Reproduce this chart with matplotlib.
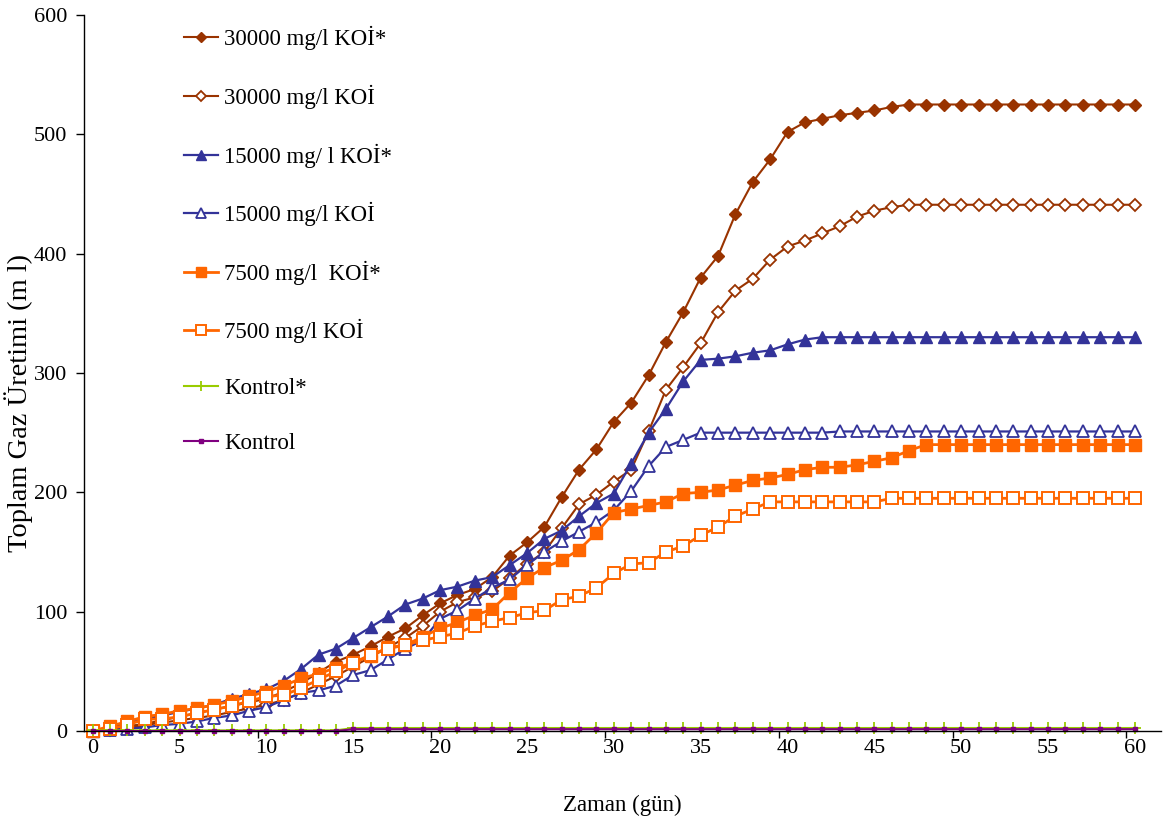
import matplotlib
matplotlib.use("Agg")
import matplotlib.pyplot as plt
from matplotlib.ticker import FixedLocator

plt.rcParams['font.family'] = ['Liberation Serif', 'DejaVu Serif']

days = list(range(0, 61))

koi30000_star = [0, 2, 4, 6, 9, 12, 15, 18, 21, 24,
                 27, 33, 40, 49, 58, 64, 71, 79, 86, 97,
                 107, 114, 119, 129, 147, 158, 171, 196, 219, 236,
                 259, 275, 298, 326, 351, 380, 398, 433, 460, 479,
                 502, 510, 513, 516, 518, 520, 523, 525, 525, 525,
                 525, 525, 525, 525, 525, 525, 525, 525, 525, 525, 525]

koi30000 = [0, 1, 3, 5, 7, 9, 11, 13, 16, 19,
            22, 26, 32, 39, 46, 54, 62, 70, 78, 88,
            100, 108, 112, 117, 128, 140, 150, 170, 190, 198,
            209, 219, 251, 286, 305, 325, 351, 369, 379, 395,
            406, 411, 417, 423, 431, 436, 439, 441, 441, 441,
            441, 441, 441, 441, 441, 441, 441, 441, 441, 441, 441]

koi15000_star = [0, 3, 7, 10, 13, 16, 19, 22, 27, 31,
                 35, 42, 52, 64, 69, 78, 87, 96, 106, 111,
                 118, 121, 126, 129, 139, 149, 161, 168, 180, 191,
                 199, 224, 250, 270, 293, 311, 312, 314, 317, 319,
                 324, 328, 330, 330, 330, 330, 330, 330, 330, 330,
                 330, 330, 330, 330, 330, 330, 330, 330, 330, 330, 330]

koi15000 = [0, 1, 2, 3, 5, 6, 8, 11, 13, 17,
            20, 26, 32, 34, 38, 47, 51, 60, 69, 76,
            94, 101, 111, 120, 127, 139, 150, 159, 167, 175,
            185, 201, 222, 238, 244, 250, 250, 250, 250, 250,
            250, 250, 250, 251, 251, 251, 251, 251, 251, 251,
            251, 251, 251, 251, 251, 251, 251, 251, 251, 251, 251]

koi7500_star = [0, 4, 8, 12, 14, 17, 19, 22, 25, 29,
                33, 38, 44, 48, 53, 57, 63, 70, 72, 79,
                86, 91, 97, 102, 116, 128, 137, 143, 152, 166,
                183, 186, 189, 192, 199, 200, 202, 206, 210, 212,
                215, 219, 221, 221, 223, 226, 229, 235, 240, 240,
                240, 240, 240, 240, 240, 240, 240, 240, 240, 240, 240]

koi7500 = [0, 2, 5, 10, 10, 12, 15, 18, 21, 25,
           29, 30, 36, 43, 50, 57, 64, 69, 72, 76,
           79, 82, 88, 92, 95, 99, 101, 110, 113, 120,
           132, 140, 141, 150, 155, 164, 171, 180, 186, 192,
           192, 192, 192, 192, 192, 192, 195, 195, 195, 195,
           195, 195, 195, 195, 195, 195, 195, 195, 195, 195, 195]

kontrol_star = [0.5, 0.5, 0.5, 0.5, 0.5, 0.5, 0.5, 0.5, 0.5, 0.5,
                0.5, 0.5, 0.5, 0.5, 0.5, 2.5, 2.5, 2.5, 2.5, 2.5,
                2.5, 2.5, 2.5, 2.5, 2.5, 2.5, 2.5, 2.5, 2.5, 2.5,
                2.5, 2.5, 2.5, 2.5, 2.5, 2.5, 2.5, 2.5, 2.5, 2.5,
                2.5, 2.5, 2.5, 2.5, 2.5, 2.5, 2.5, 2.5, 2.5, 2.5,
                2.5, 2.5, 2.5, 2.5, 2.5, 2.5, 2.5, 2.5, 2.5, 2.5, 2.5]

kontrol = [0, 0, 0, 0, 0, 0, 0, 0, 0, 0,
           0, 0, 0, 0, 0, 1.5, 1.5, 1.5, 1.5, 1.5,
           1.5, 1.5, 1.5, 1.5, 1.5, 1.5, 1.5, 1.5, 1.5, 1.5,
           1.5, 1.5, 1.5, 1.5, 1.5, 1.5, 1.5, 1.5, 1.5, 1.5,
           1.5, 1.5, 1.5, 1.5, 1.5, 1.5, 1.5, 1.5, 1.5, 1.5,
           1.5, 1.5, 1.5, 1.5, 1.5, 1.5, 1.5, 1.5, 1.5, 1.5, 1.5]

labels = ["30000 mg/l KOİ*", "30000 mg/l KOİ", "15000 mg/ l KOİ*",
          "15000 mg/l KOİ", "7500 mg/l  KOİ*", "7500 mg/l KOİ",
          "Kontrol*", "Kontrol"]

x_labels = [0, 5, 10, 15, 20, 25, 30, 35, 40, 45, 50, 55, 60]
y_ticks = [0, 100, 200, 300, 400, 500, 600]

BROWN = "#993300"
BLUE = "#333399"
ORANGE = "#FF6600"
GREEN = "#99CC00"
PURPLE = "#800080"

fig = plt.figure(figsize=(11.75, 8.26), dpi=100)
ax = fig.add_axes([84 / 1175, 1 - 731 / 826, (1161 - 84) / 1175, (731 - 15) / 826])

styles = [
    (koi30000_star, dict(color=BROWN, marker="D", ms=6, mfc=BROWN, mec=BROWN, lw=1.5)),
    (koi30000, dict(color=BROWN, marker="D", ms=6, mfc="white", mec=BROWN, mew=1.3, lw=1.5)),
    (koi15000_star, dict(color=BLUE, marker="^", ms=8, mfc=BLUE, mec=BLUE, lw=1.6)),
    (koi15000, dict(color=BLUE, marker="^", ms=8, mfc="white", mec=BLUE, mew=1.3, lw=1.6)),
    (koi7500_star, dict(color=ORANGE, marker="s", ms=8, mfc=ORANGE, mec=ORANGE, lw=2.0)),
    (koi7500, dict(color=ORANGE, marker="s", ms=8, mfc="white", mec=ORANGE, mew=1.4, lw=2.0)),
    (kontrol_star, dict(color=GREEN, marker="+", ms=9, mew=1.3, lw=1.5)),
    (kontrol, dict(color=PURPLE, marker="s", ms=3.5, mfc=PURPLE, mec=PURPLE, lw=1.5)),
]

for (vals, kw), lab in zip(styles, labels):
    ax.plot(days, vals, label=lab, clip_on=False, **kw)

ax.set_xlim(-0.5, 61.5)
ax.set_ylim(0, 600)

ax.spines['top'].set_visible(False)
ax.spines['right'].set_visible(False)
for s in ('left', 'bottom'):
    ax.spines[s].set_linewidth(1.0)
    ax.spines[s].set_color('black')

ax.set_yticks(y_ticks)
ax.tick_params(axis='y', direction='out', length=6, width=1, pad=6, labelsize=16)

ax.set_xticks(x_labels)
ax.xaxis.set_minor_locator(FixedLocator([9.5, 19.5, 29.5, 39.5, 49.5, 59.5]))
ax.tick_params(axis='x', which='major', length=0, pad=6, labelsize=16)
ax.tick_params(axis='x', which='minor', direction='out', length=5, width=1)

ax.set_xlabel("Zaman (gün)", fontsize=16.5, labelpad=26)
ax.set_ylabel("Toplam Gaz Üretimi (m l)", fontsize=20.5)
ax.yaxis.set_label_coords(-0.047, 0.458)

leg = ax.legend(loc='upper left', bbox_to_anchor=(0.074, 1.013), frameon=False,
                fontsize=16.5, labelspacing=1.5, handlelength=1.45,
                handletextpad=0.3, markerscale=0.85)

fig.savefig("out.png", dpi=100)
